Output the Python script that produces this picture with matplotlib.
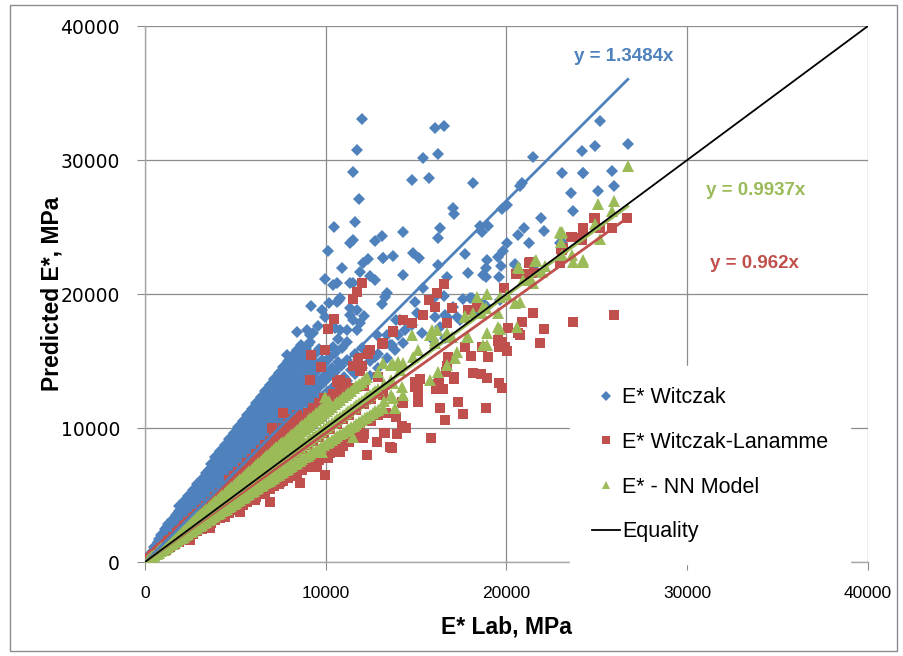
import matplotlib
matplotlib.use("Agg")
import matplotlib.pyplot as plt
from matplotlib.patches import Rectangle
import numpy as np

# ---- data (MPa) ----
# dense part of each cloud, written as (E* lab, [predicted values seen above it])
witczak_columns = [
    (150, [250, 380]), (350, [480, 700]), (500, [640, 900, 1150]), (700, [880, 1200, 1520]),
    (900, [1120, 1450, 1800, 2050]), (1100, [1330, 1720, 2120, 2480]),
    (1300, [1560, 1990, 2420, 2800]), (1500, [1800, 2260, 2700, 3150]),
    (1700, [2050, 2530, 3020, 3480]), (1900, [2280, 2790, 3330, 3820, 4150]),
    (2150, [2600, 3150, 3650, 4150, 4550]), (2400, [2880, 3450, 4000, 4520, 4950]),
    (2650, [3200, 3780, 4350, 4900, 5350]), (2900, [3480, 4100, 4700, 5250, 5800]),
    (3150, [3800, 4420, 5050, 5650, 6200]), (3400, [4100, 4750, 5400, 6020, 6650]),
    (3650, [4400, 5080, 5750, 6400, 7000, 7350]), (3900, [4700, 5400, 6100, 6800, 7450, 7800]),
    (4150, [5000, 5750, 6450, 7150, 7850, 8300]), (4400, [5300, 6050, 6800, 7550, 8250, 8750]),
    (4650, [5600, 6400, 7150, 7950, 8700, 9200]), (4900, [5900, 6700, 7500, 8300, 9100, 9650]),
    (5150, [6200, 7050, 7850, 8700, 9550, 10100]), (5400, [6500, 7350, 8200, 9100, 9950, 10500]),
    (5650, [6800, 7700, 8600, 9500, 10400, 10950]), (5900, [7100, 8000, 8950, 9900, 10800, 11400]),
    (6150, [7400, 8350, 9300, 10300, 11250, 11850]), (6400, [7700, 8700, 9700, 10700, 11650, 12300]),
    (6650, [8000, 9000, 10050, 11100, 12100, 12750]), (6900, [8300, 9350, 10400, 11500, 12500, 13200]),
    (7150, [8600, 9700, 10800, 11900, 12950, 13650]), (7400, [8900, 10000, 11150, 12300, 13400, 14100]),
    (7650, [9200, 10350, 11500, 12700, 13800, 14550]), (7900, [9500, 10700, 11900, 13100, 14250, 15000]),
    (8150, [9800, 11000, 12250, 13500, 14700, 15400]), (8400, [10100, 11350, 12600, 13900, 15100, 15800]),
    (8650, [10400, 11700, 13000, 14300, 15500, 16200]), (8900, [10700, 12000, 13350, 14700, 15900]),
    (9150, [11000, 12350, 13700, 15100, 16400]), (9400, [11300, 12700, 14100, 15500]),
    (9650, [11650, 13050, 14450, 15900]), (9900, [11950, 13400, 14800]),
    (10200, [12300, 13800, 15200]), (10500, [12650, 14150, 15600]), (10850, [13050, 14600]),
    (11200, [13500, 15050]), (11600, [14000, 15550]), (12000, [14450, 16000]),
    (12450, [15000, 13900]), (12900, [15500, 14500]),
    (425, [590]), (600, [770, 1030]), (800, [1040, 1360, 1700]), (1000, [1280, 1620, 1960]),
    (1200, [1520, 1900, 2300, 2640]), (1400, [1780, 2200, 2600]), (1600, [2030, 2480, 2950]),
    (1800, [2290, 2780, 3250, 3650]), (2025, [2530, 3050, 3560, 4000]),
    (2275, [2880, 3400, 3900, 4350]), (2525, [3170, 3720, 4260, 4750]),
    (2775, [3490, 4060, 4620, 5130]), (3025, [3790, 4400, 4980, 5520]),
    (3275, [4110, 4740, 5350, 5940]), (3525, [4420, 5080, 5710, 6330, 6850]),
    (3775, [4740, 5420, 6080, 6720, 7200]), (4025, [5050, 5760, 6450, 7120, 7650]),
    (4275, [5380, 6100, 6800, 7500, 8100]), (4525, [5680, 6420, 7180, 7900, 8500]),
    (4775, [6000, 6780, 7550, 8320, 8950]), (5025, [6300, 7100, 7900, 8700, 9400]),
    (5275, [6620, 7450, 8280, 9120, 9850]), (5525, [6920, 7780, 8650, 9530, 10250]),
    (5775, [7250, 8150, 9050, 9950, 10700]), (6025, [7550, 8480, 9420, 10370, 11150]),
    (6275, [7880, 8830, 9800, 10780, 11600]), (6525, [8200, 9200, 10200, 11200, 12050]),
    (6775, [8520, 9550, 10600, 11600, 12500]), (7025, [8830, 9900, 10950, 12000, 12900]),
    (7275, [9150, 10250, 11350, 12450, 13350]), (7525, [9450, 10600, 11750, 12850, 13800]),
    (7775, [9780, 10950, 12150, 13250, 14250]), (8025, [10100, 11300, 12500, 13700, 14700]),
    (8275, [10400, 11650, 12900, 14100, 15150]), (8525, [10750, 12000, 13250, 14500, 15500]),
    (8775, [11050, 12350, 13650, 14900]), (9025, [11350, 12700, 14000, 15300]),
    (9275, [11650, 13050, 14400]), (9525, [12000, 13400, 14800]), (9775, [12300, 13700, 15100]),
    (10050, [12650, 14100]), (10350, [13000, 14500]), (10675, [13350, 14900]),
    (11025, [13800]), (11400, [14300]),
]
witczak_scatter = [
    (11990, 33040), (11730, 30770), (11510, 29100), (11840, 27090), (10460, 25000), (11620, 25370),
    (13100, 24330), (12730, 23960), (11340, 23790), (11490, 24030), (10130, 23210), (13150, 22710),
    (13740, 22840), (12340, 22610), (12060, 22310), (11900, 21640), (10880, 21960), (9980, 21120),
    (10400, 20670), (10600, 20820), (11340, 20840), (11510, 20840), (12450, 21340), (12730, 21050),
    (13370, 20100), (13280, 19800), (13100, 19250), (13870, 18060), (9185, 19100), (9775, 18810),
    (10200, 19350), (10730, 19550), (10640, 19430), (10790, 19720), (9960, 18300), (9590, 17610),
    (8390, 17190), (8950, 17310), (9130, 16940), (9310, 17070), (11340, 18430), (11530, 18060),
    (11900, 17810), (12130, 18360), (11340, 18930), (11710, 18810), (10510, 17440), (10790, 17310),
    (11160, 17310), (11710, 17310), (10700, 16620), (11160, 16440), (10880, 15950), (10510, 15820),
    (10420, 16070), (7840, 15450), (8200, 15320), (8580, 15690), (8850, 15950), (9040, 16190),
    (8020, 14950), (8760, 14700), (9310, 14580), (10050, 15080), (12820, 16940), (13370, 16940),
    (13650, 16190), (12730, 15320), (13370, 15200), (12450, 15320), (11500, 14300), (10050, 11590),
    (16050, 32410), (16540, 32560), (15400, 30170), (16190, 30450), (14770, 28510), (15700, 28680),
    (18130, 28280), (17060, 26400), (17100, 25950), (16320, 24950), (16190, 24160), (14260, 24630),
    (14810, 23080), (15180, 22710), (13190, 22710), (14260, 21420), (16190, 22160), (16730, 21290),
    (17710, 22960), (17890, 21550), (18540, 25080), (18960, 25080), (18630, 24650), (18940, 22540),
    (18680, 21420), (18870, 21290), (19550, 22790), (19680, 22110), (19600, 21290), (19740, 26320),
    (20050, 26640), (20010, 23830), (19830, 23210), (20750, 28060), (20840, 28260), (21450, 30250),
    (21900, 25650), (22100, 24700), (20990, 24900), (20660, 24400), (21270, 23780), (20470, 22220),
    (23060, 29010), (23570, 27520), (23660, 26200), (24200, 30700), (24900, 31070), (25180, 32930),
    (24220, 29050), (25860, 29180), (25970, 28060), (25080, 27710), (26710, 31170), (22960, 23830),
    (14940, 19430), (15400, 20430), (16560, 19850), (17610, 19600), (18080, 19680), (19640, 19550),
    (18870, 21920), (14110, 18060), (14390, 17310), (14020, 16940), (15030, 18560), (16050, 18300),
    (16690, 18300), (17060, 19050), (16320, 17560), (17430, 18060), (18350, 18560), (18720, 19310),
    (15310, 17070), (15950, 16570), (16600, 16690), (13560, 16190), (14290, 16320), (14760, 17690),
    (13830, 15820), (23050, 23900), (24250, 29050), (16050, 19800), (16600, 18430), (17250, 18300),
    (17980, 19680), (18900, 19050), (20470, 22160), (21580, 22160),
]

lanamme_columns = [
    (150, [120, 170]), (400, [330, 420]), (650, [520, 640, 760]), (900, [720, 880, 1050]),
    (1150, [920, 1120, 1330]), (1400, [1110, 1370, 1620]), (1650, [1310, 1610, 1900]),
    (1900, [1500, 1850, 2200, 2350]), (2150, [1700, 2090, 2480, 2650]),
    (2400, [1900, 2330, 2770, 2950]), (2650, [2100, 2580, 3050, 3260]),
    (2900, [2300, 2820, 3340, 3570]), (3150, [2500, 3060, 3630, 3900]),
    (3400, [2700, 3300, 3920, 4200]), (3650, [2900, 3550, 4200, 4500]),
    (3900, [3100, 3790, 4490, 4820]), (4150, [3300, 4030, 4780, 5130]),
    (4400, [3480, 4270, 5070, 5450]), (4650, [3680, 4520, 5350, 5750, 6100]),
    (4900, [3880, 4760, 5640, 6060, 6400]), (5150, [4080, 5000, 5930, 6370, 6750]),
    (5400, [4270, 5250, 6220, 6680, 7050]), (5650, [4470, 5490, 6500, 6990, 7400]),
    (5900, [4670, 5730, 6790, 7300, 7700]), (6150, [4870, 5980, 7080, 7610, 8050]),
    (6400, [5060, 6220, 7370, 7920, 8350]), (6650, [5260, 6460, 7650, 8230, 8700]),
    (6900, [5460, 6700, 7940, 8540, 9050]), (7150, [5650, 6950, 8230, 8850, 9350]),
    (7400, [5850, 7190, 8520, 9160, 9700]), (7650, [6050, 7430, 8800, 9470, 10000]),
    (7900, [6250, 7670, 9090, 9780, 10300]), (8150, [6450, 7920, 9380, 10090, 10650]),
    (8400, [6650, 8160, 9670, 10400, 10950]), (8700, [6880, 8450, 10010, 10770]),
    (9000, [7120, 8740, 10350, 11140]), (9300, [7350, 9030, 10700, 11520]),
    (9600, [7600, 9330, 11050, 11880]), (9900, [7830, 9620, 11400, 12250]),
    (10250, [8100, 9960, 11800]), (10600, [8380, 10300, 12200]), (10950, [8660, 10640, 12600]),
    (11300, [8950, 10980, 13000]), (11700, [9260, 11370]), (12100, [9580, 11760, 13100]),
    (12500, [10500, 12150]), (12900, [11000, 12550, 13800]),
    (275, [230, 330]), (525, [440, 630]), (775, [640, 930]), (1025, [850, 1230]),
    (1275, [1060, 1530]), (1525, [1270, 1830]), (1775, [1470, 2130]), (2025, [1680, 2430]),
    (2275, [1890, 2730]), (2525, [2100, 3030]), (2775, [2300, 3330]), (3025, [2510, 3630]),
    (3275, [2720, 3930]), (3525, [2930, 4230]), (3775, [3130, 4530]), (4025, [3340, 4830]),
    (4275, [3550, 5130]), (4525, [3760, 5430]), (4775, [3960, 5730]), (5025, [4170, 6030]),
    (5275, [4380, 6330]), (5525, [4590, 6630]), (5775, [4790, 6930]), (6025, [5000, 7230]),
    (6275, [5210, 7530]), (6525, [5420, 7830]), (6775, [5620, 8130]), (7025, [5830, 8430]),
    (7275, [6040, 8730]), (7525, [6250, 9030]), (7775, [6450, 9330]), (8025, [6660, 9630]),
    (8275, [6870, 9930]), (8550, [7100, 10260]), (8850, [7350, 10620]), (9150, [7590, 10980]),
    (9450, [7840, 11340]), (9750, [8090, 11700]), (10075, [8360, 12090]), (10425, [8650, 12510]),
    (10775, [8940, 12930]), (11125, [9230, 13350]), (11500, [9550]), (11900, [9880, 14280]),
]
lanamme_scatter = [
    (11990, 20840), (11750, 20170), (11530, 19630), (10470, 18140), (10140, 17410), (13740, 17190),
    (13130, 16270), (12450, 15820), (12360, 15520), (11800, 15200), (11530, 14650), (11990, 14650),
    (9980, 15820), (9185, 15420), (9740, 14580), (9130, 13580), (7620, 11100), (7010, 9980),
    (10790, 13580), (10600, 13460), (8390, 9850), (7650, 9100), (9310, 11340), (4700, 6120),
    (16540, 20730), (16180, 20050), (15730, 19550), (16050, 19050), (16970, 18930), (17890, 18810),
    (18350, 19010), (15400, 18430), (14260, 18060), (14760, 17860), (13710, 17240), (13190, 16320),
    (19880, 20470), (20510, 21470), (21030, 21470), (21250, 22340), (21540, 21550), (23020, 23360),
    (22960, 22340), (23570, 24280), (24250, 24950), (24900, 25650), (24160, 24160), (25180, 24900),
    (25860, 24900), (26690, 25650), (21450, 18560), (20840, 17930), (20070, 17440), (22090, 17410),
    (20660, 17070), (20750, 16940), (21860, 16320), (23660, 17930), (25950, 18430), (19550, 16570),
    (19920, 16070), (19640, 16320), (23110, 23410), (21300, 22410), (16690, 17860), (24860, 25700),
    (23610, 24230), (24160, 24030), (23050, 23280),
    (20010, 15770), (19550, 16490), (19740, 16440), (19600, 16070), (18960, 15320), (18630, 16070),
    (18020, 15400), (17710, 16020), (18940, 13710), (18570, 14010), (18130, 14080), (19600, 13340),
    (19740, 12960), (17100, 13830), (17100, 13630), (16640, 14160), (16780, 15320), (16690, 14630),
    (16280, 13380), (16100, 12890), (16470, 12890), (16230, 13260), (17300, 11960), (17580, 11020),
    (18850, 11470), (16320, 11470), (16600, 10600), (15120, 12220), (15120, 11960), (14940, 13080),
    (15120, 12960), (14940, 13450), (15220, 13630), (14200, 11960), (14260, 11890), (13890, 10840),
    (13340, 11100), (14200, 10150), (14440, 9980), (13960, 9530), (13240, 9600), (15820, 9230),
    (13680, 8530), (13190, 12460),
    (9960, 6490), (8580, 5870), (6920, 4500), (6090, 4630), (5260, 3750), (4430, 3380), (3600, 2510),
    (2490, 1640), (12270, 7990), (12080, 9230), (12820, 8980), (13280, 9600), (13560, 8600),
    (10790, 8230), (10140, 7740), (9500, 7110), (7470, 5990), (6550, 5250), (8020, 6620), (7380, 5870),
]

nn_columns = [
    (150, [130, 170]), (400, [360, 440]), (650, [580, 660, 730]), (900, [800, 910, 1010]),
    (1150, [1020, 1160, 1290]), (1400, [1240, 1410, 1570]), (1650, [1460, 1660, 1850]),
    (1900, [1680, 1910, 2130]), (2150, [1900, 2160, 2410, 2520]), (2400, [2120, 2410, 2690, 2810]),
    (2650, [2340, 2660, 2970, 3100]), (2900, [2560, 2910, 3250, 3400]),
    (3150, [2780, 3160, 3530, 3690]), (3400, [3000, 3410, 3810, 3980]),
    (3650, [3220, 3660, 4090, 4280]), (3900, [3440, 3910, 4370, 4570]),
    (4150, [3660, 4160, 4650, 4860]), (4400, [3880, 4410, 4930, 5160]),
    (4650, [4100, 4660, 5210, 5450]), (4900, [4320, 4910, 5490, 5750]),
    (5150, [4540, 5160, 5770, 6040]), (5400, [4760, 5410, 6050, 6330]),
    (5650, [4980, 5660, 6330, 6630]), (5900, [5200, 5910, 6610, 6920]),
    (6150, [5420, 6160, 6890, 7210]), (6400, [5640, 6410, 7170, 7510]),
    (6650, [5860, 6660, 7450, 7800]), (6900, [6080, 6910, 7730, 8100]),
    (7150, [6300, 7160, 8010, 8400]), (7400, [6520, 7410, 8290, 8700]),
    (7650, [6740, 7660, 8570, 8990]), (7900, [6960, 7910, 8850, 9280]),
    (8150, [7180, 8160, 9130, 9580]), (8400, [7400, 8410, 9410, 9870]),
    (8700, [7660, 8710, 9750, 10220]), (9000, [7930, 9010, 10080, 10580]),
    (9300, [8190, 9310, 10420, 10930]), (9600, [8460, 9610, 10760, 11280]),
    (9900, [8720, 9910, 11090, 11630]), (10200, [8990, 10210, 11430, 12000]),
    (10500, [9250, 10510, 11770]), (10800, [9520, 10810, 12110]),
    (11100, [9780, 11110, 12440]), (11400, [10050, 11410, 12780]),
    (11700, [10310, 11710, 13110]), (12000, [10580, 12010, 13450]),
    (12300, [10840, 12310, 13780]), (12600, [11100, 12610]), (12900, [11370, 12910, 14200]),
    (13250, [12000, 13260]), (13600, [12500, 13600, 14700]),
    (275, [250, 310]), (525, [470, 550]), (775, [690, 790, 870]), (1025, [910, 1040, 1150]),
    (1275, [1130, 1290, 1430]), (1525, [1350, 1530, 1710]), (1775, [1570, 1790, 1990]),
    (2025, [1790, 2040, 2270, 2400]), (2275, [2010, 2290, 2550, 2660]),
    (2525, [2230, 2540, 2830, 2950]), (2775, [2450, 2790, 3110, 3250]),
    (3025, [2670, 3040, 3390, 3550]), (3275, [2890, 3290, 3670, 3840]),
    (3525, [3110, 3540, 3950, 4130]), (3775, [3330, 3790, 4230, 4420]),
    (4025, [3550, 4040, 4510, 4720]), (4275, [3770, 4290, 4790, 5010]),
    (4525, [3990, 4540, 5070, 5300]), (4775, [4210, 4790, 5350, 5600]),
    (5025, [4430, 5040, 5630, 5900]), (5275, [4650, 5290, 5910, 6190]),
    (5525, [4870, 5540, 6190, 6480]), (5775, [5090, 5790, 6470, 6780]),
    (6025, [5310, 6040, 6750, 7070]), (6275, [5530, 6290, 7030, 7360]),
    (6525, [5750, 6540, 7310, 7650]), (6775, [5970, 6790, 7590, 7950]),
    (7025, [6190, 7040, 7870, 8250]), (7275, [6410, 7290, 8150, 8550]),
    (7525, [6630, 7540, 8430, 8850]), (7775, [6850, 7790, 8710, 9130]),
    (8025, [7070, 8040, 8990, 9430]), (8275, [7290, 8290, 9270, 9720]),
    (8550, [7530, 8560, 9580, 10050]), (8850, [7800, 8860, 9920, 10400]),
    (9150, [8060, 9160, 10250, 10750]), (9450, [8330, 9460, 10590, 11100]),
    (9750, [8590, 9760, 10930, 11450]), (10050, [8860, 10060, 11260, 11800]),
    (10350, [9120, 10360, 11600]), (10650, [9390, 10660, 11940]), (10950, [9650, 10960, 12280]),
    (11250, [9920, 11260, 12610]), (11550, [10180, 11560, 12950]), (11850, [10450, 11860, 13280]),
    (12150, [10710, 12160, 13620]), (12450, [10970, 12460]), (12750, [11240, 12760]),
]
nn_scatter = [
    (26710, 29580), (25080, 26690), (25970, 26940), (25820, 26200), (24900, 25230), (25180, 24080),
    (22960, 24600), (23700, 22410), (24250, 22410), (23610, 22910), (23060, 22910), (21580, 22460),
    (20660, 22040), (20930, 21050), (21300, 21050), (21980, 21670), (18350, 19750), (18940, 20000),
    (18870, 18930), (19640, 19800), (20750, 19430), (20010, 19930), (19550, 18560), (20470, 19310),
    (17710, 18300), (18630, 18560), (19550, 17560), (18900, 17070), (19640, 17410), (20570, 17560),
    (15860, 17310), (16140, 17310), (16690, 17070), (14760, 16940), (16050, 16570), (17890, 16820),
    (18720, 16190), (13190, 14870), (13740, 14780), (14020, 14950), (23020, 24570), (23000, 23900),
    (21630, 22540), (20710, 21960), (21480, 20800), (22130, 22090), (18720, 19050), (18170, 18560),
    (17710, 18380), (24220, 22540), (23050, 24650), (15770, 16940), (16050, 16320), (16970, 16820),
    (17250, 15700), (17800, 16820), (18900, 16190), (14850, 15320), (15120, 15820), (14290, 14830),
    (13740, 14700), (14110, 14330), (15770, 13580), (16230, 14200), (16690, 14700), (17150, 15200),
    (13740, 13340), (14200, 13080), (14290, 12460), (13740, 12220), (13190, 11470), (13830, 11470),
    (9960, 12340), (11530, 9350), (9780, 8230),
]

series_names = ["E* Witczak", "E* Witczak-Lanamme", "E* - NN Model"]
trend_slopes = [1.3484, 0.962, 0.9937]
equality_line = [0, 40000]
axis_ticks = [0, 10000, 20000, 30000, 40000]

colors = ["#4F81BD", "#C0504D", "#9BBB59"]
markers = ["D", "s", "^"]
msizes = [6.6, 7.2, 8.2]


def expand(columns, scatter):
    pts = [(x, y) for x, ys in columns for y in ys] + scatter
    return np.array(pts, dtype=float)


groups = [
    expand(witczak_columns, witczak_scatter),
    expand(lanamme_columns, lanamme_scatter),
    expand(nn_columns, nn_scatter),
]

fig = plt.figure(figsize=(9.04, 6.56), dpi=100)
ax = fig.add_axes([145 / 904, 1 - 562 / 656, 723 / 904, 536 / 656])

for arr, name, col, mk, ms in zip(groups, series_names, colors, markers, msizes):
    ax.plot(arr[:, 0], arr[:, 1], linestyle="none", marker=mk, markersize=ms,
            color=col, markeredgewidth=0, label=name, zorder=3)

# linear trend lines through origin (Excel style)
for arr, slope, col in zip(groups, trend_slopes, colors):
    xmax = arr[:, 0].max()
    ax.plot([0, xmax], [0, slope * xmax], color=col, linewidth=2.0, zorder=4)

ax.plot(equality_line, equality_line, color="black", linewidth=1.3, label="Equality", zorder=5)

ax.set_xlim(0, 40000)
ax.set_ylim(0, 40000)
ax.grid(True, color="#8C8C8C", linewidth=0.9, zorder=0)
ax.set_axisbelow(True)
for side in ["top", "right"]:
    ax.spines[side].set_visible(False)
for side in ["left", "bottom"]:
    ax.spines[side].set_color("#A6A6A6")
    ax.spines[side].set_linewidth(1.0)
ax.tick_params(axis="both", direction="out", length=6, color="#8C8C8C")
ax.tick_params(axis="x", pad=11)
ax.tick_params(axis="y", pad=12)
ax.set_xticks(axis_ticks)
ax.set_yticks(axis_ticks)
ax.set_xticklabels([str(t) for t in axis_ticks], fontsize=12.5, family="Liberation Sans")
ax.set_yticklabels([str(t) for t in axis_ticks], fontsize=13.5, family="DejaVu Sans")

ax.set_xlabel("E* Lab, MPa", fontsize=16.5, fontweight="bold", family="Liberation Sans", labelpad=11)
ax.set_ylabel("Predicted E*, MPa", fontsize=16.5, fontweight="bold", family="Liberation Sans")
ax.yaxis.set_label_coords(-0.113, 0.5)

# trendline equations
ax.text(26500, 37750, "y = 1.3484x", color=colors[0], fontsize=13.5, fontweight="bold",
        family="Liberation Sans", ha="center", va="center")
ax.text(33800, 27700, "y = 0.9937x", color=colors[2], fontsize=13.5, fontweight="bold",
        family="Liberation Sans", ha="center", va="center")
ax.text(33700, 22300, "y = 0.962x", color=colors[1], fontsize=13.5, fontweight="bold",
        family="Liberation Sans", ha="center", va="center")

leg = ax.legend(loc="upper left", bbox_to_anchor=(0.5885, 0.366), frameon=True, fancybox=False,
                prop={"family": "Liberation Sans", "size": 15.5}, handlelength=1.3,
                handletextpad=0.1, labelspacing=1.1, borderpad=1.0, markerscale=0.75,
                borderaxespad=0)
leg.get_frame().set_facecolor("white")
leg.get_frame().set_edgecolor("white")
leg.get_frame().set_alpha(1)
leg.set_zorder(6)

fig.patches.append(Rectangle((10 / 904, 5 / 656), 887 / 904, 646 / 656, transform=fig.transFigure,
                             fill=False, edgecolor="#8C8C8C", linewidth=1.0))

fig.savefig("out.png", dpi=100)
